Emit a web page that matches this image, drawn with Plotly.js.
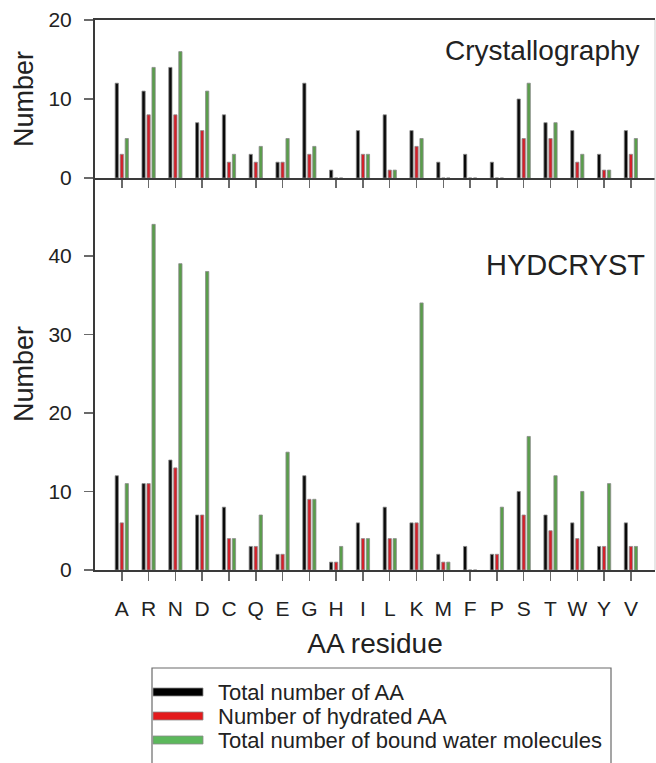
<!DOCTYPE html>
<html>
<head>
<meta charset="utf-8">
<script src="https://cdn.plot.ly/plotly-3.0.1.min.js"></script>
<style>html,body{margin:0;padding:0;background:#fff;}#chart{width:656px;height:763px;}</style>
</head>
<body>
<div id="chart"></div>
<script>
// ---- data ----
var residues = ["A","R","N","D","C","Q","E","G","H","I","L","K","M","F","P","S","T","W","Y","V"];
// Crystallography (top panel)
var crystTotalAA     = [12,11,14,7,8,3,2,12,1,6,8,6,2,3,2,10,7,6,3,6];
var crystHydratedAA  = [3,8,8,6,2,2,2,3,0,3,1,4,0,0,0,5,5,2,1,3];
var crystBoundWater  = [5,14,16,11,3,4,5,4,0,3,1,5,0,0,0,12,7,3,1,5];
// HYDCRYST (bottom panel)
var hydTotalAA       = [12,11,14,7,8,3,2,12,1,6,8,6,2,3,2,10,7,6,3,6];
var hydHydratedAA    = [6,11,13,7,4,3,2,9,1,4,4,6,1,0,2,7,5,4,3,3];
var hydBoundWater    = [11,44,39,38,4,7,15,9,3,4,4,34,1,0,8,17,12,10,11,3];
var seriesNames = ["Total number of AA","Number of hydrated AA","Total number of bound water molecules"];
var topTicks = [0,10,20];
var bottomTicks = [0,10,20,30,40];

// ---- style ----
var barColors = ["#0a0a0a","#d4202a","#5a9e4b"];
var swatchColors = ["#000000","#e31a1c","#5cb85c"];
var FONT = "Liberation Sans, Arial, sans-serif";
var W = 656, H = 763, ML = 95, MR = 1, MT = 20, MB = 193;
function px(x){ return (x - ML) / (W - ML - MR); }
function py(y){ return (H - MB - y) / (H - MT - MB); }
var split = py(178);

var xs = residues.map(function(_, i){ return i; });
function mk(vals, k, xa, ya){
  return {type:"bar", x:xs, y:vals, name:seriesNames[k], xaxis:xa, yaxis:ya,
    marker:{color:barColors[k], line:{color:"#8a8a8a", width:0.8}},
    showlegend:false, hoverinfo:"x+y+name"};
}
var data = [
  mk(crystTotalAA,0,"x2","y2"), mk(crystHydratedAA,1,"x2","y2"), mk(crystBoundWater,2,"x2","y2"),
  mk(hydTotalAA,0,"x","y"), mk(hydHydratedAA,1,"x","y"), mk(hydBoundWater,2,"x","y")
];

var axisLine = {showline:true, linecolor:"#3a3a3a", linewidth:2, zeroline:false, showgrid:false,
  ticks:"outside", ticklen:9, tickwidth:1.5, tickcolor:"#6a6a6a"};
var tickFont = {family:FONT, size:21, color:"#222"};

var layout = {
  width:W, height:H, margin:{l:ML, r:MR, t:MT, b:MB, pad:0},
  paper_bgcolor:"#fff", plot_bgcolor:"#fff",
  barmode:"group", bargap:0.44, bargroupgap:0.35,
  showlegend:false,
  xaxis: Object.assign({}, axisLine, {domain:[0,1], anchor:"y", range:[-1,19.9],
    tickmode:"array", tickvals:xs, ticktext:residues, tickfont:tickFont, ticklabelstandoff:10,
    title:{text:"AA residue", font:{family:FONT, size:28, color:"#222"}, standoff:14}}),
  yaxis: Object.assign({}, axisLine, {domain:[0,split], anchor:"x", range:[0,49.9],
    tickmode:"array", tickvals:bottomTicks, tickfont:tickFont, ticklabelstandoff:8,
    title:{text:"Number", font:{family:FONT, size:27, color:"#222"}, standoff:7}}),
  xaxis2: Object.assign({}, axisLine, {domain:[0,1], anchor:"y2", range:[-1,19.9],
    tickmode:"array", tickvals:xs, showticklabels:false, ticklen:8, mirror:true}),
  yaxis2: Object.assign({}, axisLine, {domain:[split,1], anchor:"x2", range:[0,20],
    tickmode:"array", tickvals:topTicks, tickfont:tickFont, ticklabelstandoff:8,
    title:{text:"Number", font:{family:FONT, size:27, color:"#222"}, standoff:7}}),
  annotations: [
    {xref:"paper", yref:"paper", x:px(542), y:py(50), text:"Crystallography", showarrow:false,
      xanchor:"center", yanchor:"middle", font:{family:FONT, size:28, color:"#222"}},
    {xref:"paper", yref:"paper", x:px(565), y:py(265), text:"HYDCRYST", showarrow:false,
      xanchor:"center", yanchor:"middle", font:{family:FONT, size:29, color:"#222"}}
  ],
  shapes: [
    {type:"line", xref:"paper", yref:"paper", x0:px(655), x1:px(655), y0:py(20), y1:py(570),
      line:{color:"#cfcfcf", width:1}},
    {type:"rect", xref:"paper", yref:"paper", x0:px(152), x1:px(611), y0:py(668), y1:py(775),
      line:{color:"#6a6a6a", width:1.2}, fillcolor:"rgba(0,0,0,0)"}
  ]
};
var rows = [692, 716, 740];
for (var k = 0; k < 3; k++){
  layout.shapes.push({type:"rect", xref:"paper", yref:"paper", x0:px(153), x1:px(203),
    y0:py(rows[k]-4), y1:py(rows[k]+4), fillcolor:swatchColors[k], line:{color:"#8a8a8a", width:0.8}});
  layout.annotations.push({xref:"paper", yref:"paper", x:px(216), y:py(rows[k]), text:seriesNames[k],
    showarrow:false, xanchor:"left", yanchor:"middle", font:{family:FONT, size:22, color:"#222"}});
}
Plotly.newPlot("chart", data, layout, {displayModeBar:false, staticPlot:true});
</script>
</body>
</html>
